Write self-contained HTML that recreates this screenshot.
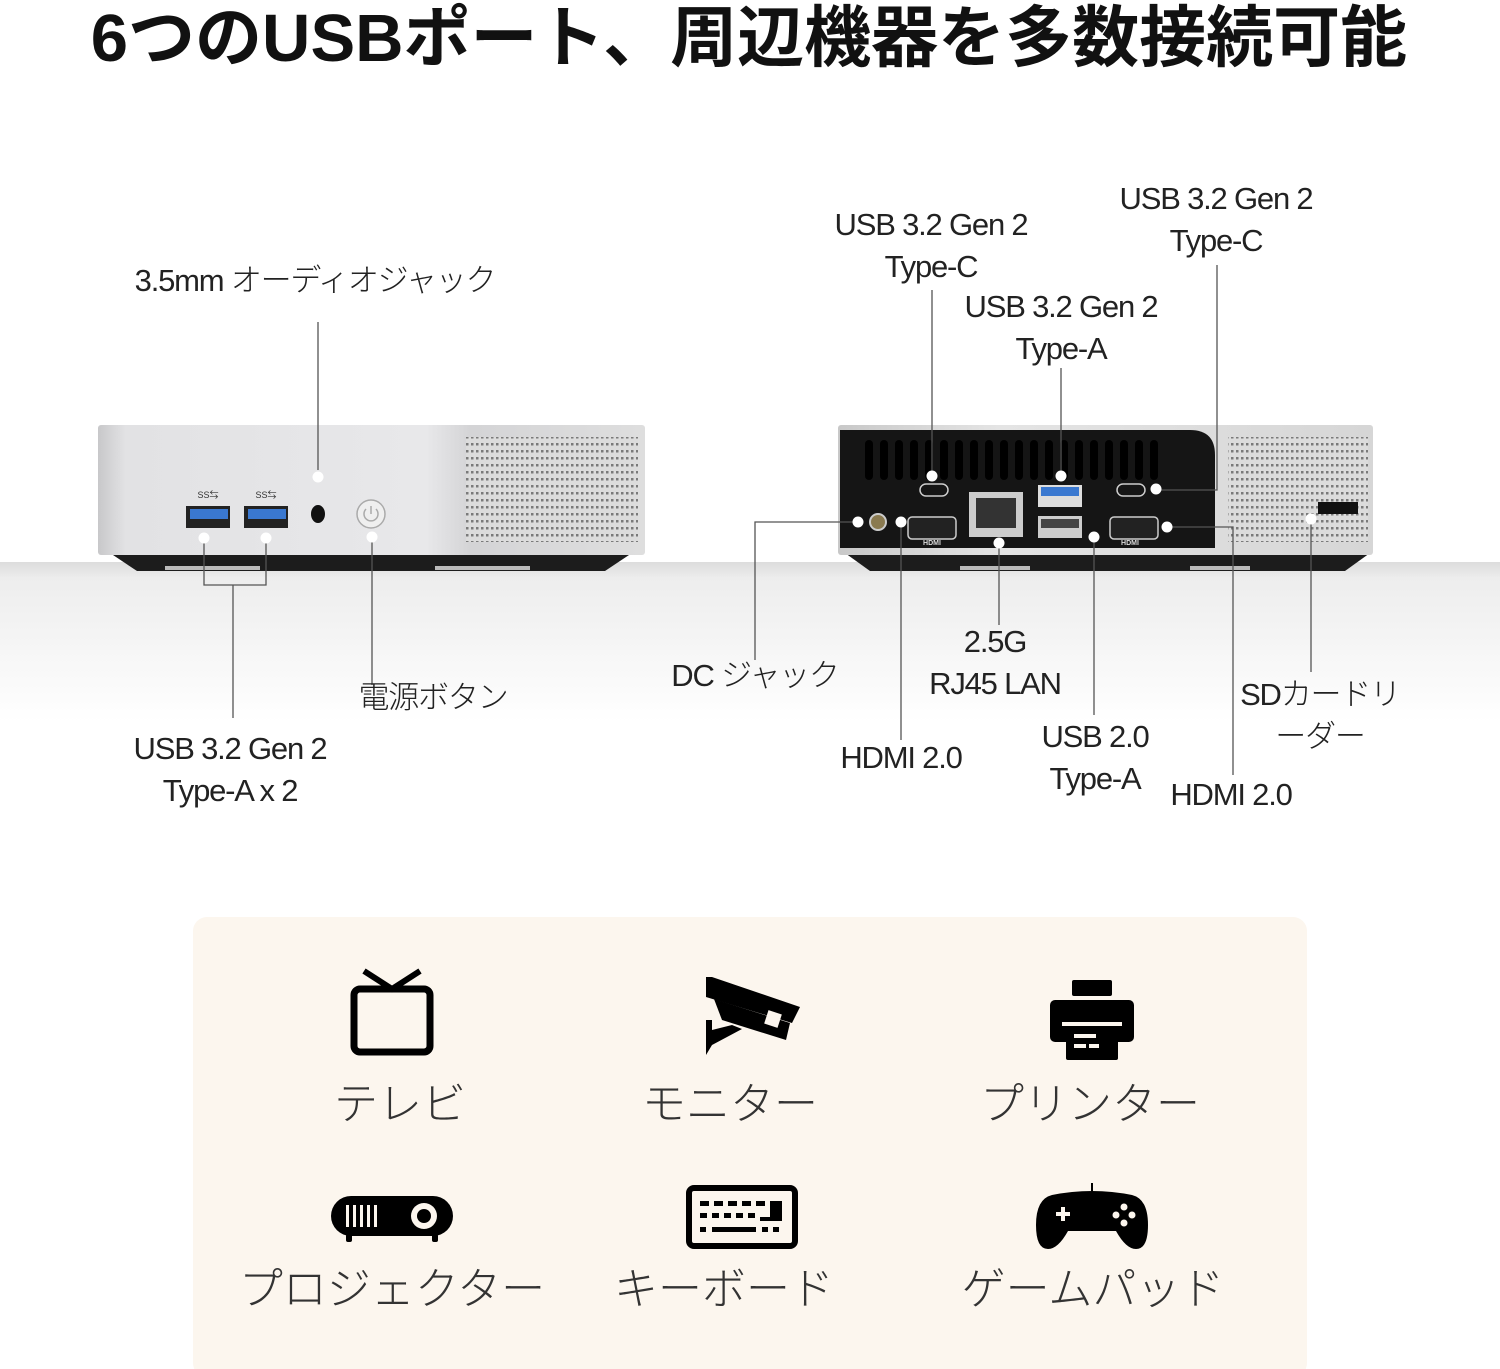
<!DOCTYPE html>
<html><head><meta charset="utf-8"><style>
html,body{margin:0;padding:0;background:#fff;}
svg{display:block;}
text{font-family:"Liberation Sans","Noto Sans CJK JP",sans-serif;}
.t{font-size:31px;fill:#222;text-anchor:middle;font-weight:300;letter-spacing:-1.2px;}
.c{font-size:44px;fill:#333;text-anchor:middle;font-weight:300;}
.ln{stroke:#555;stroke-width:1.3;fill:none;}
.dot{fill:#fff;}
</style></head><body>
<svg width="1500" height="1369" viewBox="0 0 1500 1369" xmlns="http://www.w3.org/2000/svg">
<defs>
<linearGradient id="floor" x1="0" y1="0" x2="0" y2="1">
<stop offset="0" stop-color="#dcdcdc"/><stop offset="0.1" stop-color="#ededed"/><stop offset="1" stop-color="#ffffff"/></linearGradient>
<linearGradient id="silver" x1="0" y1="0" x2="1" y2="0">
<stop offset="0" stop-color="#c8c8ca"/><stop offset="0.05" stop-color="#e2e2e4"/><stop offset="0.6" stop-color="#e8e8ea"/><stop offset="0.68" stop-color="#d4d4d6"/><stop offset="1" stop-color="#dedede"/></linearGradient>
<linearGradient id="silver2" x1="0" y1="0" x2="1" y2="0">
<stop offset="0" stop-color="#c8c8c8"/><stop offset="0.3" stop-color="#e4e4e4"/><stop offset="1" stop-color="#d6d6d6"/></linearGradient>
<pattern id="grill" width="5" height="7" patternUnits="userSpaceOnUse"><rect width="5" height="7" fill="#dcdcdc"/><rect x="1" y="2" width="2.5" height="2.5" fill="#7a7a7a"/></pattern>
</defs>
<rect x="0" y="562" width="1500" height="160" fill="url(#floor)"/>
<text x="749" y="61" text-anchor="middle" style="font-size:67px;font-weight:bold;fill:#111">6つのUSBポート、周辺機器を多数接続可能</text>

<!-- Left device -->
<path d="M110 553 L632 553 L605 571 L137 571 Z" fill="#1c1c1c"/>
<rect x="165" y="566" width="95" height="4" fill="#bbb"/><rect x="435" y="566" width="95" height="4" fill="#bbb"/>
<rect x="98" y="425" width="547" height="130" rx="3" fill="url(#silver)"/>
<rect x="466" y="437" width="172" height="105" fill="url(#grill)"/>
<rect x="186" y="506" width="44" height="22" fill="#222"/><rect x="190" y="509" width="38" height="10" fill="#3a78d0"/>
<rect x="244" y="506" width="44" height="22" fill="#222"/><rect x="248" y="509" width="38" height="10" fill="#3a78d0"/>
<text x="208" y="498" style="font-size:9px;fill:#333" text-anchor="middle">SS⇆</text>
<text x="266" y="498" style="font-size:9px;fill:#333" text-anchor="middle">SS⇆</text>
<ellipse cx="318" cy="514" rx="7" ry="9" fill="#111"/>
<circle cx="371" cy="514" r="14" fill="#efefef" stroke="#aaa" stroke-width="1.5"/>
<path d="M366 509 A7 7 0 1 0 376 509 M371 506 L371 514" stroke="#aaa" stroke-width="1.5" fill="none"/>
<path class="ln" d="M318 322 V470"/>
<path class="ln" d="M204 538 V585 H266 V538 M233 585 V718"/>
<path class="ln" d="M372 537 V685"/>
<circle class="dot" cx="318" cy="477" r="5.5"/><circle class="dot" cx="204" cy="538" r="5.5"/><circle class="dot" cx="266" cy="538" r="5.5"/><circle class="dot" cx="372" cy="537" r="5.5"/>
<text class="t" x="315" y="291">3.5mm オーディオジャック</text>
<text class="t" x="433" y="708">電源ボタン</text>
<text class="t" x="230" y="759">USB 3.2 Gen 2</text>
<text class="t" x="230" y="801">Type-A x 2</text>

<!-- Right device -->
<path d="M845 553 L1370 553 L1345 571 L870 571 Z" fill="#1c1c1c"/>
<rect x="960" y="566" width="70" height="4" fill="#bbb"/><rect x="1190" y="566" width="60" height="4" fill="#bbb"/>
<rect x="838" y="425" width="535" height="130" rx="3" fill="url(#silver2)"/>
<rect x="1228" y="437" width="140" height="105" fill="url(#grill)"/>
<rect x="1318" y="502" width="40" height="12" fill="#111"/>
<path d="M840 430 H1190 Q1215 430 1215 455 V548 H840 Z" fill="#151515"/>
<g fill="#000">
<rect x="865" y="440" width="8" height="40" rx="4"/><rect x="880" y="440" width="8" height="40" rx="4"/><rect x="895" y="440" width="8" height="40" rx="4"/><rect x="910" y="440" width="8" height="40" rx="4"/><rect x="925" y="440" width="8" height="40" rx="4"/><rect x="940" y="440" width="8" height="40" rx="4"/><rect x="955" y="440" width="8" height="40" rx="4"/><rect x="970" y="440" width="8" height="40" rx="4"/><rect x="985" y="440" width="8" height="40" rx="4"/><rect x="1000" y="440" width="8" height="40" rx="4"/><rect x="1015" y="440" width="8" height="40" rx="4"/><rect x="1030" y="440" width="8" height="40" rx="4"/><rect x="1045" y="440" width="8" height="40" rx="4"/><rect x="1060" y="440" width="8" height="40" rx="4"/><rect x="1075" y="440" width="8" height="40" rx="4"/><rect x="1090" y="440" width="8" height="40" rx="4"/><rect x="1105" y="440" width="8" height="40" rx="4"/><rect x="1120" y="440" width="8" height="40" rx="4"/><rect x="1135" y="440" width="8" height="40" rx="4"/><rect x="1150" y="440" width="8" height="40" rx="4"/>
</g>
<rect x="920" y="484" width="28" height="12" rx="6" fill="none" stroke="#ccc" stroke-width="1.5"/>
<rect x="1117" y="484" width="28" height="12" rx="6" fill="none" stroke="#ccc" stroke-width="1.5"/>
<rect x="908" y="517" width="48" height="22" rx="4" fill="#222" stroke="#ccc" stroke-width="1.5"/>
<rect x="1110" y="517" width="48" height="22" rx="4" fill="#222" stroke="#ccc" stroke-width="1.5"/>
<text x="932" y="545" style="font-size:7px;fill:#ddd;font-weight:bold" text-anchor="middle">HDMI</text>
<text x="1130" y="545" style="font-size:7px;fill:#ddd;font-weight:bold" text-anchor="middle">HDMI</text>
<rect x="969" y="492" width="54" height="45" fill="#ccc"/><rect x="976" y="498" width="40" height="30" fill="#333"/>
<rect x="1038" y="485" width="44" height="22" fill="#ddd"/><rect x="1041" y="487" width="38" height="9" fill="#3a78d0"/>
<rect x="1038" y="516" width="44" height="22" fill="#ccc"/><rect x="1041" y="519" width="38" height="9" fill="#444"/>
<circle cx="878" cy="522" r="8" fill="#8a7a50" stroke="#ccc" stroke-width="2"/>
<path class="ln" d="M932 290 V476"/>
<path class="ln" d="M1061 368 V476"/>
<path class="ln" d="M1156 490 H1217 V265"/>
<path class="ln" d="M858 522 H755 V660"/>
<path class="ln" d="M901 522 V740"/>
<path class="ln" d="M999 543 V625"/>
<path class="ln" d="M1094 537 V715"/>
<path class="ln" d="M1167 527 H1233 V775"/>
<path class="ln" d="M1311 519 V672"/>
<g class="dot"><circle cx="932" cy="476" r="5.5"/><circle cx="1061" cy="476" r="5.5"/><circle cx="1156" cy="489" r="5.5"/><circle cx="858" cy="522" r="5.5"/><circle cx="901" cy="522" r="5.5"/><circle cx="999" cy="543" r="5.5"/><circle cx="1094" cy="537" r="5.5"/><circle cx="1167" cy="527" r="5.5"/><circle cx="1311" cy="519" r="5.5"/></g>
<text class="t" x="931" y="235">USB 3.2 Gen 2</text><text class="t" x="931" y="277">Type-C</text>
<text class="t" x="1061" y="317">USB 3.2 Gen 2</text><text class="t" x="1061" y="359">Type-A</text>
<text class="t" x="1216" y="209">USB 3.2 Gen 2</text><text class="t" x="1216" y="251">Type-C</text>
<text class="t" x="755" y="686">DC ジャック</text>
<text class="t" x="901" y="768">HDMI 2.0</text>
<text class="t" x="995" y="652">2.5G</text><text class="t" x="995" y="694">RJ45 LAN</text>
<text class="t" x="1095" y="747">USB 2.0</text><text class="t" x="1095" y="789">Type-A</text>
<text class="t" x="1231" y="805">HDMI 2.0</text>
<text class="t" x="1320" y="705">SDカードリ</text><text class="t" x="1320" y="747">ーダー</text>

<!-- Card -->
<rect x="193" y="917" width="1114" height="460" rx="14" fill="#fcf6ee"/>
<g transform="translate(392,1013)">
<rect x="-38" y="-24" width="76" height="63" rx="6" fill="none" stroke="#000" stroke-width="7"/>
<path d="M-28 -42 L0 -24 L28 -42" stroke="#000" stroke-width="6" fill="none"/>
</g>
<g transform="translate(752,1015)" fill="#000">
<path d="M-46 -38 L-40 -38 L48 -8 L40 8 L-46 -18 Z"/>
<path d="M-38 -16 L38 8 L34 25 L-30 5 Z"/>
<rect x="14" y="-3" width="14" height="14" fill="#fcf6ee" transform="rotate(18 21 4)"/>
<path d="M-46 5 L-40 5 L-40 15 L-20 10 L-10 14 L-40 30 L-46 40 Z"/>
</g>
<g transform="translate(1092,1018)" fill="#000">
<rect x="-20" y="-38" width="40" height="16" rx="2"/>
<rect x="-42" y="-18" width="84" height="42" rx="5"/>
<rect x="-26" y="8" width="52" height="34" rx="2"/>
<rect x="-18" y="16" width="22" height="4" fill="#fcf6ee"/><rect x="-18" y="26" width="12" height="4" fill="#fcf6ee"/><rect x="-3" y="26" width="10" height="4" fill="#fcf6ee"/>
<rect x="-30" y="4" width="60" height="4" fill="#fcf6ee"/>
</g>
<g transform="translate(392,1217)" fill="#000">
<rect x="-61" y="-21" width="122" height="40" rx="20"/>
<rect x="-46" y="17" width="6" height="8" rx="2"/><rect x="40" y="17" width="6" height="8" rx="2"/>
<g fill="#fcf6ee"><rect x="-46" y="-12" width="3" height="22"/><rect x="-39" y="-12" width="3" height="22"/><rect x="-32" y="-12" width="3" height="22"/><rect x="-25" y="-12" width="3" height="22"/><rect x="-18" y="-12" width="3" height="22"/></g>
<circle cx="32" cy="-1" r="13" fill="#fcf6ee"/><circle cx="32" cy="-1" r="7"/>
</g>
<g transform="translate(742,1217)">
<rect x="-53" y="-29" width="106" height="58" rx="5" fill="none" stroke="#000" stroke-width="6"/>
<g fill="#000"><rect x="-42" y="-16" width="9" height="5"/><rect x="-28" y="-16" width="9" height="5"/><rect x="-14" y="-16" width="9" height="5"/><rect x="0" y="-16" width="9" height="5"/><rect x="14" y="-16" width="9" height="5"/><rect x="28" y="-16" width="12" height="20"/>
<rect x="-42" y="-4" width="7" height="5"/><rect x="-30" y="-4" width="7" height="5"/><rect x="-18" y="-4" width="7" height="5"/><rect x="-6" y="-4" width="7" height="5"/><rect x="6" y="-4" width="7" height="5"/><rect x="18" y="0" width="16" height="4"/>
<rect x="-42" y="10" width="6" height="5"/><rect x="-30" y="10" width="44" height="5"/><rect x="20" y="10" width="6" height="5"/><rect x="31" y="10" width="6" height="5"/></g>
</g>
<g transform="translate(1092,1217)" fill="#000">
<path d="M-40 -22 Q0 -30 40 -22 Q56 -18 56 8 Q56 32 44 32 Q34 32 24 14 L-24 14 Q-34 32 -44 32 Q-56 32 -56 8 Q-56 -18 -40 -22 Z"/>
<rect x="-1" y="-34" width="2" height="8"/>
<g fill="#fcf6ee"><rect x="-36" y="-5" width="14" height="4"/><rect x="-31" y="-10" width="4" height="14"/>
<circle cx="32" cy="-10" r="3.5"/><circle cx="32" cy="6" r="3.5"/><circle cx="24" cy="-2" r="3.5"/><circle cx="40" cy="-2" r="3.5"/></g>
</g>
<text class="c" x="400" y="1119">テレビ</text>
<text class="c" x="730" y="1119">モニター</text>
<text class="c" x="1090" y="1119">プリンター</text>
<text class="c" x="392" y="1304">プロジェクター</text>
<text class="c" x="724" y="1304">キーボード</text>
<text class="c" x="1093" y="1304">ゲームパッド</text>
</svg>
</body></html>
